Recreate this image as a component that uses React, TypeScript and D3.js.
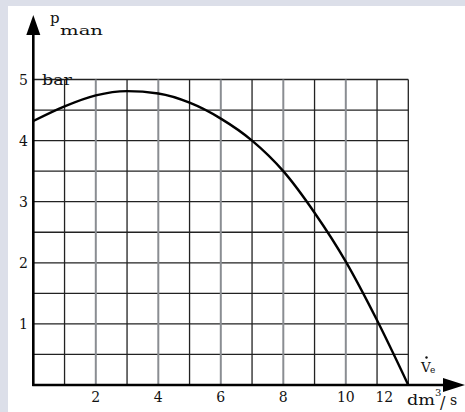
import React from "react";
import * as d3 from "d3";

// Data
const flowValues = [0, 1, 2, 3, 4, 5, 6, 7, 8, 9, 10, 11, 12];
const pressureValues = [4.32, 4.56, 4.74, 4.81, 4.77, 4.62, 4.36, 4.0, 3.5, 2.82, 2.02, 1.06, 0];
const xTickValues = [2, 4, 6, 8, 10, 12];
const yTickValues = [1, 2, 3, 4, 5];
const xGridValues = d3.range(1, 13, 1);
const yGridValues = d3.range(0.5, 5.01, 0.5);

const W = 465;
const H = 412;
const FONT = "'DejaVu Serif', 'Liberation Serif', serif";

export default function App() {
  const x = d3.scaleLinear().domain([0, 12]).range([33.3, 408.3]);
  const y = d3.scaleLinear().domain([0, 5]).range([385, 79.5]);

  const line = d3
    .line<number>()
    .x((_, i) => x(flowValues[i]))
    .y((d) => y(d))
    .curve(d3.curveMonotoneX);

  const x0 = x(0);
  const y0 = y(0);

  return (
    <svg
      width={W}
      height={H}
      style={{ position: "absolute", left: 0, top: 0, display: "block" }}
      fontFamily={FONT}
    >
      <rect x={0} y={0} width={W} height={H} fill="#dcdfe9" />
      <rect x={8} y={6} width={W - 8} height={H - 6} fill="#ffffff" />

      {/* horizontal grid */}
      {yGridValues.map((v) => (
        <line
          key={"h" + v}
          x1={x0}
          x2={x(12)}
          y1={y(v)}
          y2={y(v)}
          stroke="#222"
          strokeWidth={1.3}
        />
      ))}
      {/* vertical grid */}
      {xGridValues.map((v) => (
        <line
          key={"v" + v}
          x1={x(v)}
          x2={x(v)}
          y1={y0}
          y2={y(5)}
          stroke={v % 2 === 0 && v !== 12 ? "#8a8d92" : "#222"}
          strokeWidth={v % 2 === 0 && v !== 12 ? 2 : 1.3}
        />
      ))}

      {/* curve */}
      <path d={line(pressureValues) || ""} fill="none" stroke="#000" strokeWidth={2.4} />

      {/* axes */}
      <line x1={x0} x2={x0} y1={y0 + 1} y2={30} stroke="#000" strokeWidth={2.6} />
      <path d={`M${x0 - 7},35 L${x0},15 L${x0 + 7},35 Z`} fill="#000" />
      <line x1={x0 - 1} x2={448} y1={y0} y2={y0} stroke="#000" strokeWidth={2.6} />
      <path d={`M443,${y0 - 7} L465,${y0} L443,${y0 + 7} Z`} fill="#000" />

      {/* y tick labels */}
      {yTickValues.map((v) => (
        <text
          key={"yt" + v}
          x={28}
          y={y(v)}
          dy="0.36em"
          textAnchor="end"
          fontSize={14}
          fill="#111"
        >
          {v}
        </text>
      ))}
      {/* x tick labels */}
      {xTickValues.map((v) => (
        <text
          key={"xt" + v}
          x={v === 12 ? x(v) - 24 : x(v)}
          y={402}
          textAnchor="middle"
          fontSize={14}
          fill="#111"
        >
          {v}
        </text>
      ))}

      {/* axis titles */}
      <text x={50} y={23} fontSize={15} fill="#111">p</text>
      <text x={60} y={35} fontSize={13} fill="#111" textLength={43} lengthAdjust="spacingAndGlyphs">
        man
      </text>
      <text x={42} y={85} fontSize={14} fill="#111" textLength={30} lengthAdjust="spacingAndGlyphs">
        bar
      </text>

      <text x={421} y={372} fontSize={13.5} fill="#111">V</text>
      <circle cx={426.5} cy={357.5} r={1.2} fill="#111" />
      <text x={430} y={373} fontSize={9} fill="#111">e</text>

      <text x={407} y={405} fontSize={14} fill="#111" textLength={28} lengthAdjust="spacingAndGlyphs">
        dm
      </text>
      <text x={435} y={396} fontSize={10} fill="#111">3</text>
      <text x={440} y={408} fontSize={16} fill="#111">/</text>
      <text x={450} y={405} fontSize={14} fill="#111">s</text>
    </svg>
  );
}
